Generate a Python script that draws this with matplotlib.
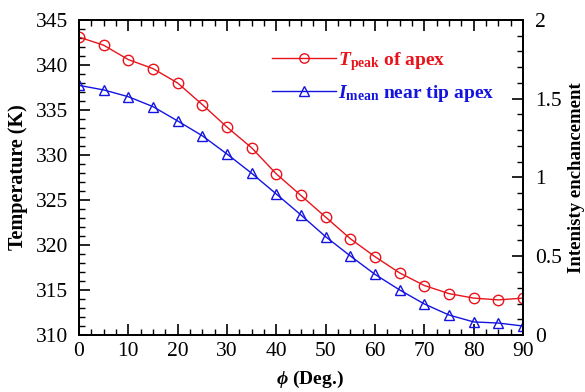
import matplotlib
matplotlib.use("Agg")
import matplotlib.pyplot as plt
from matplotlib.ticker import MultipleLocator

plt.rcParams['font.family'] = ['Liberation Serif', 'DejaVu Serif']
plt.rcParams['mathtext.fontset'] = 'custom'
plt.rcParams['mathtext.rm'] = 'Liberation Serif'
plt.rcParams['mathtext.it'] = 'Liberation Serif:italic'
plt.rcParams['mathtext.bf'] = 'Liberation Serif:bold'
plt.rcParams['mathtext.bfit'] = 'Liberation Serif:italic:bold'

# data
phi = [0, 5, 10, 15, 20, 25, 30, 35, 40, 45, 50, 55, 60, 65, 70, 75, 80, 85, 90]
t_peak = [343.1, 342.2, 340.6, 339.6, 338.0, 335.6, 333.1, 330.8, 327.9, 325.5,
          323.1, 320.7, 318.7, 316.9, 315.5, 314.6, 314.1, 313.9, 314.1]
i_mean = [1.585, 1.556, 1.513, 1.45, 1.359, 1.265, 1.149, 1.027, 0.895, 0.762,
          0.624, 0.502, 0.385, 0.286, 0.197, 0.127, 0.083, 0.076, 0.057]

red = '#e8141c'
blue = '#1414e0'

fig = plt.figure(figsize=(5.85, 3.92), dpi=100)
ax = fig.add_axes([0.135, 0.1454, 0.759, 0.8036])
ax2 = ax.twinx()

l1, = ax.plot(phi, t_peak, color=red, lw=1, marker='o', ms=7.5,
              mfc='none', mec=red, mew=1)
l2, = ax2.plot(phi, i_mean, color=blue, lw=1, marker='^', ms=7.5,
               mfc='none', mec=blue, mew=1)

ax.set_xlim(0, 90)
ax.set_ylim(310, 345)
ax2.set_ylim(0, 2)

ax.xaxis.set_major_locator(MultipleLocator(10))
ax.xaxis.set_minor_locator(MultipleLocator(2.5))
ax.yaxis.set_major_locator(MultipleLocator(5))
ax.yaxis.set_minor_locator(MultipleLocator(1))
ax2.set_yticks([0, 0.5, 1, 1.5, 2])
ax2.set_yticklabels(['0', '0.5', '1', '1.5', '2'])
ax2.yaxis.set_minor_locator(MultipleLocator(0.1))

ax.tick_params(which='both', direction='in', top=True, right=False, labelsize=15.5)
ax.tick_params(axis='y', which='major', pad=8)
ax.tick_params(axis='x', which='major', pad=5)
ax.tick_params(which='major', length=8, width=1.2)
ax.tick_params(which='minor', length=4, width=1)
ax2.tick_params(which='both', direction='in', labelsize=15.5)
ax2.tick_params(which='major', length=8, width=1.2, pad=9)
ax2.tick_params(which='minor', length=4, width=1)
for a in (ax, ax2):
    for s in a.spines.values():
        s.set_linewidth(1.3)

ax.set_xlabel(r'$\boldsymbol{\phi}$ (Deg.)', fontsize=14, fontweight='bold', labelpad=6)
ax.xaxis.label.set_x(0.52)
ax.set_ylabel('Temperature (K)', fontsize=14.5, fontweight='bold', labelpad=5.5)
ax2.set_ylabel('Intenisty enchancement', fontsize=13.5, fontweight='bold', labelpad=4)

leg = ax.legend([l1, l2],
                [r'$\mathbfit{T}_{\mathbf{peak}}$ of apex',
                 r'$\mathbfit{I}_{\mathbf{mean}}$ near tip apex'],
                loc='upper right', bbox_to_anchor=(0.975, 0.96), frameon=False,
                prop={'weight': 'bold', 'size': 14}, handlelength=3.3,
                handletextpad=0.1, labelspacing=0.5, markerscale=0.9)
for txt, c in zip(leg.get_texts(), [red, blue]):
    txt.set_color(c)

fig.savefig('out.png', dpi=100)
